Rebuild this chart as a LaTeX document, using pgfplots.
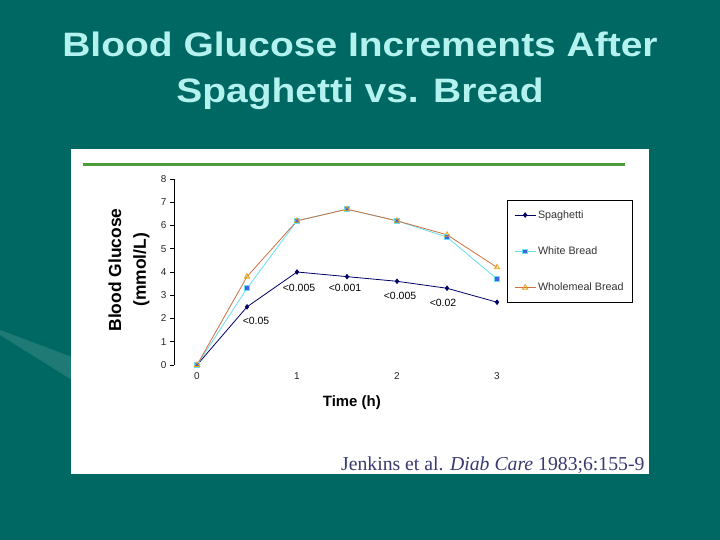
\documentclass[border=0pt]{standalone}
\usepackage{fontspec}
\setmainfont{Liberation Sans}
\newfontfamily\citefont{Liberation Serif}
\newfontfamily\titlefont[FakeStretch=1.15]{Liberation Sans}
\usepackage{pgfplots}
\usepackage{pgfplotstable}
\pgfplotsset{compat=1.18}

\definecolor{slidebg}{RGB}{0,104,98}
\definecolor{titlecyan}{RGB}{180,242,240}
\definecolor{rulegreen}{RGB}{76,156,60}
\definecolor{spag}{RGB}{0,0,102}
\definecolor{whiteline}{RGB}{102,224,240}
\definecolor{whitemark}{RGB}{64,96,232}
\definecolor{wholeline}{RGB}{208,112,64}
\definecolor{wholemark}{RGB}{232,163,23}
\definecolor{citeblue}{RGB}{58,58,112}

% time (h), glucose increment (mmol/L)
\pgfplotstableread{
t   spag white whole
0   0    0     0
0.5 2.5  3.3   3.8
1   4.0  6.2   6.2
1.5 3.8  6.7   6.7
2   3.6  6.2   6.2
2.5 3.3  5.5   5.6
3   2.7  3.7   4.2
}\glucose

\begin{document}
\begin{tikzpicture}[x=1bp,y=1bp]
\fill[slidebg] (0,0) rectangle (720,540);
\path[use as bounding box] (0,0) rectangle (720,540);
% faint wave on the left
\fill[white,opacity=0.12] (0,210) -- (72,183) -- (72,160) -- (0,205) -- cycle;

% title
\node[text=titlecyan, font=\titlefont\bfseries\fontsize{34}{40}\selectfont, anchor=base] at (360,483) {Blood Glucose Increments After};
\node[text=titlecyan, font=\titlefont\bfseries\fontsize{34}{40}\selectfont, anchor=base] at (360,437) {Spaghetti vs. Bread};

% white panel and green rule
\fill[white] (71,66) rectangle (649,391);
\draw[rulegreen, line width=3bp] (83,375) -- (625,375);

\begin{axis}[
    at={(174bp,175bp)}, anchor=south west,
    scale only axis, width=346bp, height=186bp,
    xmin=-0.23, xmax=3.23, ymin=0, ymax=8,
    axis lines=left,
    axis line style={-, black, line width=0.7bp},
    x axis line style={draw=none},
    xtick={0,1,2,3}, ytick={0,1,...,8},
    xtick style={draw=none},
    ytick style={black, line width=0.7bp},
    tick align=outside, major tick length=4bp,
    /pgf/number format/assume math mode=true,
    tick label style={font=\fontsize{10}{12}\selectfont, text=black!85},
    xlabel={Time (h)},
    xlabel style={font=\bfseries\fontsize{15}{18}\selectfont, at={(rel axis cs:0.514,-0.204)}, anchor=center},
    ylabel={Blood Glucose\\(mmol/L)},
    ylabel style={font=\bfseries\fontsize{17.5}{25}\selectfont, align=center, at={(rel axis cs:-0.13,0.511)}, anchor=center},
    legend cell align=left,
    legend image code/.code={
        \draw[mark repeat=2, mark phase=2] plot coordinates {(0bp,0bp) (10.5bp,0bp) (21bp,0bp)};},
    legend style={at={(rel axis cs:0.962,0.887)}, anchor=north west,
        draw=black, line width=0.8bp, fill=white,
        font=\fontsize{10.8}{13}\selectfont, text=black!80,
        row sep=23bp, inner xsep=7bp, inner ysep=8bp,
        nodes={inner xsep=2bp}},
    clip=false,
]
\addplot[spag, line width=0.8bp, mark=diamond*, mark size=2.2bp, mark options={fill=spag}]
    table[x=t, y=spag] {\glucose};
\addlegendentry{Spaghetti}
\addplot[whiteline, line width=0.8bp, mark=square*, mark size=2.4bp, mark options={draw=whiteline, fill=whitemark}]
    table[x=t, y=white] {\glucose};
\addlegendentry{White Bread}
\addplot[wholeline, line width=0.8bp, mark=triangle, mark size=3bp, mark options={draw=wholemark}]
    table[x=t, y=whole] {\glucose};
\addlegendentry{Wholemeal Bread}

\node[font=\fontsize{10.5}{12}\selectfont] at (axis cs:0.59,1.89) {<0.05};
\node[font=\fontsize{10.5}{12}\selectfont] at (axis cs:1.02,3.31) {<0.005};
\node[font=\fontsize{10.5}{12}\selectfont] at (axis cs:1.48,3.31) {<0.001};
\node[font=\fontsize{10.5}{12}\selectfont] at (axis cs:2.03,2.97) {<0.005};
\node[font=\fontsize{10.5}{12}\selectfont] at (axis cs:2.46,2.67) {<0.02};
\end{axis}

% citation
\node[anchor=base east, font=\citefont\fontsize{19.8}{22}\selectfont, text=citeblue] at (648,69) {Jenkins et al. \textit{Diab Care} 1983;6:155-9};
\end{tikzpicture}
\end{document}
